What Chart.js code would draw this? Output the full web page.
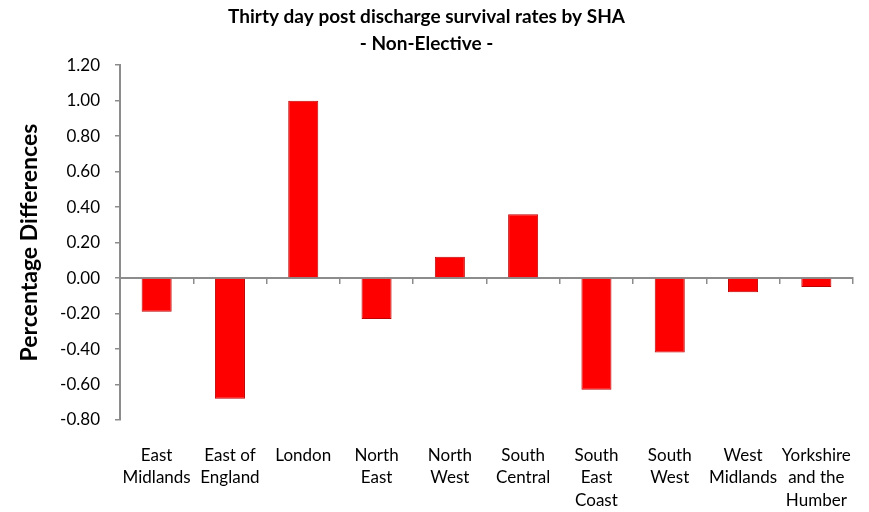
<!DOCTYPE html>
<html>
<head>
<meta charset="utf-8">
<script src="https://cdn.jsdelivr.net/npm/chart.js@4.4.0/dist/chart.umd.min.js"></script>
<style>
  html, body { margin: 0; padding: 0; background: #fff; }
  #wrap { width: 869px; height: 512px; position: relative; }
</style>
</head>
<body>
<div id="wrap"><canvas id="g1"></canvas></div>
<script>
// regions (SHA) and the differences
var regions = [
  ['East', 'Midlands'],
  ['East of', 'England'],
  ['London'],
  ['North', 'East'],
  ['North', 'West'],
  ['South', 'Central'],
  ['South', 'East', 'Coast'],
  ['South', 'West'],
  ['West', 'Midlands'],
  ['Yorkshire', 'and the', 'Humber']
];
var diffs = [-0.19, -0.68, 1.00, -0.23, 0.12, 0.36, -0.63, -0.42, -0.08, -0.05];

var yMin = -0.8, yMax = 1.2, yStep = 0.2;
var titleLines = ['Thirty day post discharge survival rates by SHA', '- Non-Elective -'];
var yTitle = 'Percentage Differences';

var fam = 'Lato, "Liberation Sans", sans-serif';
var axisGrey = '#8c8c8c';

Chart.defaults.font.family = fam;
Chart.defaults.color = '#000';

var ctx = document.getElementById('g1');

var myChart = new Chart(ctx, {
  type: 'bar',
  data: {
    labels: regions,
    datasets: [{
      label: 'Percentage Differences',
      data: diffs,
      backgroundColor: '#ff0000',
      borderColor: '#c00000',
      borderWidth: 1,
      barPercentage: 0.41,
      categoryPercentage: 1.0
    }]
  },
  options: {
    responsive: true,
    maintainAspectRatio: false,
    animation: false,
    layout: { padding: { left: 0, right: 16, top: 4, bottom: 0 } },
    plugins: {
      legend: { display: false },
      tooltip: { enabled: false },
      title: {
        display: true,
        text: titleLines,
        color: '#000',
        font: { size: 19, weight: 'bold', lineHeight: 1.4 },
        padding: { top: 0, bottom: 8 }
      }
    },
    scales: {
      x: {
        type: 'category',
        offset: true,
        afterFit: function(scale) { scale.height = 92; },
        grid: { display: false },
        border: { display: false },
        ticks: {
          color: '#000',
          font: { size: 17, lineHeight: 1.33 },
          padding: 16,
          maxRotation: 0,
          autoSkip: false
        }
      },
      // zero line with the category tick marks
      xz: {
        type: 'category',
        labels: regions,
        offset: true,
        position: { y: 0 },
        afterFit: function(scale) { scale.height = 0; },
        grid: {
          offset: true,
          drawOnChartArea: false,
          drawTicks: true,
          tickLength: 5,
          color: axisGrey,
          lineWidth: 1.5
        },
        border: { display: true, color: axisGrey, width: 2 },
        ticks: { display: false }
      },
      y: {
        min: yMin,
        max: yMax,
        afterFit: function(scale) { scale.width = 120; },
        grid: {
          drawOnChartArea: false,
          tickLength: 5,
          color: axisGrey,
          lineWidth: 1.5
        },
        border: { display: true, color: axisGrey, width: 2 },
        ticks: {
          stepSize: yStep,
          color: '#000',
          font: { size: 17 },
          padding: 15,
          callback: function(v) { return v.toFixed(2); }
        },
        title: {
          display: true,
          text: yTitle,
          color: '#000',
          font: { size: 23, weight: 'bold' },
          padding: { top: 16, bottom: 0 }
        }
      }
    }
  }
});
</script>
</body>
</html>
